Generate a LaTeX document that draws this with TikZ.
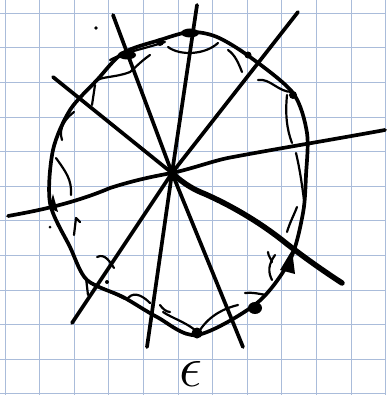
\RequirePackage{fix-cm}
\documentclass[tikz,border=0pt]{standalone}
\usetikzlibrary{calc}
\definecolor{gridblue}{RGB}{170,188,218}
\tikzset{
  pen/.style={line width=3.7pt, line cap=round, line join=round, black},
  thinpen/.style={line width=2.2pt, line cap=round, line join=round, black},
  heavypen/.style={line width=5.5pt, line cap=round, line join=round, black},
  blob/.style={fill=black},
}
\begin{document}
\begin{tikzpicture}[x=1pt,y=-1pt]
\useasboundingbox (0,0) rectangle (386,395);
\fill[white] (0,0) rectangle (386,395);
% grid paper
\foreach \i in {0,...,11} {
  \draw[gridblue, line width=1pt] ({5+34.6*\i},0) -- ({5+34.6*\i},395);
  \draw[gridblue, line width=1pt] (0,{13.3+34.6*\i}) -- (386,{13.3+34.6*\i});
}
% centre
\coordinate (O) at (172,173);
% outline of the curve
\draw[pen] plot[smooth cycle, tension=0.5] coordinates {
  (190,32) (217,37) (250,57) (293,93) (307,133) (306,175) (303,213)
  (290,260) (257,303) (197,335) (157,317) (123,297) (87,280) (70,247)
  (50,203) (53,150) (70,110) (97,80) (123,53) (160,40)};
% secondary scribble strokes
\draw[thinpen] (168,47) .. controls (180,56) and (205,55) .. (218,43);
\draw[thinpen] (110,60) .. controls (125,52) and (140,50) .. (165,42);
\draw[thinpen] (95,82) .. controls (100,76) and (115,78) .. (130,72) .. controls (135,68) and (140,62) .. (150,55);
\draw[thinpen] (95,85) -- (92,105);
\draw[thinpen] (56,158) .. controls (66,172) and (72,180) .. (71,195);
\draw[thinpen] (62,140) .. controls (58,128) and (66,118) .. (74,112);
\draw[thinpen] (74,235) -- (76,218) -- (80,222);
\draw[thinpen] (228,50) .. controls (235,55) and (238,62) .. (242,72);
\draw[thinpen] (258,80) .. controls (270,78) and (278,92) .. (292,92);
\draw[thinpen] (287,95) .. controls (285,115) and (287,130) .. (292,143);
\draw[thinpen] (296,153) .. controls (300,170) and (302,185) .. (304,200);
\draw[thinpen] (297,207) .. controls (294,215) and (290,222) .. (287,232);
\draw[thinpen] (268,252) .. controls (268,256) and (272,260) .. (272,262);
\draw[thinpen] (275,255) .. controls (268,265) and (268,272) .. (272,280);
\draw[thinpen] (200,330) .. controls (210,315) and (225,308) .. (238,305);
\draw[thinpen] (163,312) .. controls (172,318) and (185,322) .. (195,330);
\draw[thinpen] (128,298) .. controls (135,290) and (145,298) .. (150,303);
\draw[thinpen] (97,257) .. controls (105,253) and (110,262) .. (114,268);
\draw[thinpen] (90,282) -- (125,299);
\draw[thinpen] (86,278) -- (88,295);
\draw[thinpen] (245,293) .. controls (252,292) and (260,294) .. (266,295);
\draw[thinpen] (160,305) .. controls (162,308) and (166,312) .. (170,312);
% blobs at the vertices
\fill[blob] (197,333) circle (5.5pt);
\fill[blob] (190,33) ellipse (9pt and 4.5pt);
\fill[blob] (160,42) circle (4pt);
\fill[blob] (127,55) ellipse (9pt and 4.5pt);
\fill[blob] (293,95) circle (4pt);
\fill[blob] (49,208) -- (53,194) -- (58,212) -- cycle;
\fill[blob] (280,270) -- (292,250) -- (295,274) -- cycle;
\fill[blob] (255,308) ellipse (7pt and 6pt);
\fill[blob] (248,55) circle (3.5pt);
\fill[blob] (96,28) circle (1.8pt);
\fill[blob] (107,282) circle (2pt);
\fill[blob] (50,227) circle (1.5pt);
% spokes through the centre
\coordinate (a1) at (113,15);  \coordinate (a2) at (243,347);
\coordinate (b1) at (197,5);   \coordinate (b2) at (147,347);
\coordinate (c1) at (298,12);  \coordinate (c2) at (72,323);
\coordinate (d1) at (53,77);   \coordinate (d2) at (342,283);
\coordinate (e1) at (8,216);   \coordinate (e2) at (385,130);
\draw[pen] (a1) -- (O) -- (a2);
\draw[pen] (b1) -- (O) -- (b2);
\draw[pen] (c1) -- (O) -- (c2);
\draw[pen] (d1) -- (O);
\draw[heavypen] (O) .. controls (185,185) and (195,190) .. (205,194)
   .. controls (230,205) and (260,222) .. (287,244) .. controls (305,258) and (325,272) .. (d2);
\draw[pen] (e1) .. controls (30,212) and (70,205) .. (110,188)
   .. controls (135,180) and (155,176) .. (O)
   .. controls (195,168) and (215,160) .. (233,157)
   .. controls (270,150) and (330,140) .. (e2);
\fill[blob] (O) circle (4.5pt);
% label
\node[inner sep=0pt] (lab) at (191,374) {\fontsize{58}{58}\selectfont$\epsilon$};
\end{tikzpicture}
\end{document}
